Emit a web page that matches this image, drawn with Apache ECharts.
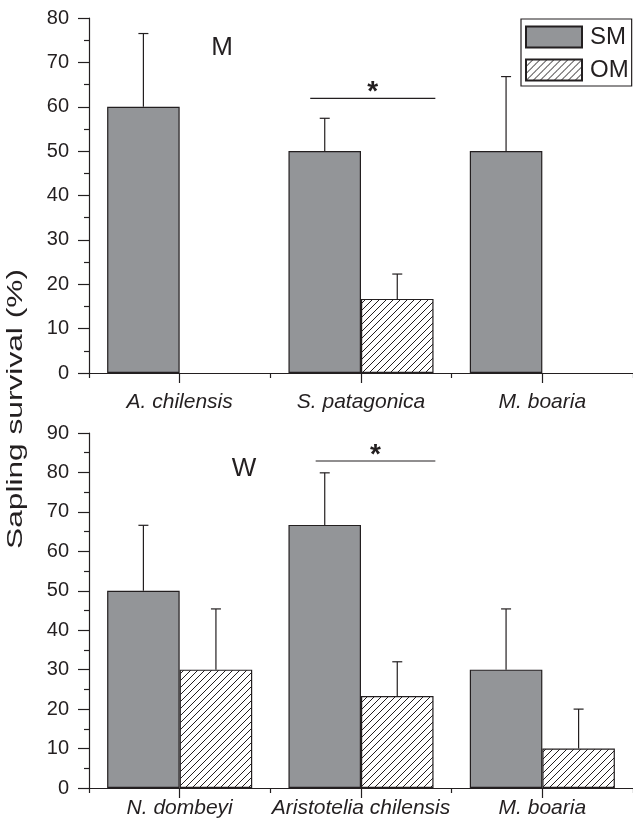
<!DOCTYPE html>
<html><head><meta charset="utf-8">
<script src="https://cdn.jsdelivr.net/npm/echarts@6/dist/echarts.min.js"></script>
<style>html,body{margin:0;padding:0;background:#fff}#c{width:633px;height:827px}</style>
</head><body><div id="c"></div>
<script>
// ---- data ----
const topCategories = ['A. chilensis', 'S. patagonica', 'M. boaria'];
const topSM = [60, 50, 50];
const topSMErr = [16.5, 7.4, 16.8];
const topOM = [null, 16.7, null];
const topOMErr = [null, 5.6, null];
const topSig = [[1, 61.9]];

const botCategories = ['N. dombeyi', 'Aristotelia chilensis', 'M. boaria'];
const botSM = [50, 66.7, 30];
const botSMErr = [16.6, 13.2, 15.4];
const botOM = [30, 23.3, 10];
const botOMErr = [15.4, 8.7, 10];
const botSig = [[1, 82.9]];

const topYTicks = { min: 0, max: 80, interval: 10 };
const botYTicks = { min: 0, max: 90, interval: 10 };
const panelLabels = ['M', 'W'];
const yTitle = 'Sapling survival (%)';

// ---- styles ----
const INK = '#231f20';
const FONT = 'Liberation Sans, Arial, sans-serif';

function hatch() {
  const c = document.createElement('canvas');
  const s = 7;
  c.width = s; c.height = s;
  const g = c.getContext('2d');
  g.fillStyle = '#fff'; g.fillRect(0, 0, s, s);
  g.strokeStyle = INK; g.lineWidth = 1;
  g.beginPath();
  g.moveTo(-1, s + 1); g.lineTo(s + 1, -1);
  g.moveTo(-1, 1); g.lineTo(1, -1);
  g.moveTo(s - 1, s + 1); g.lineTo(s + 1, s - 1);
  g.stroke();
  return c;
}
const hatchPattern = { image: hatch(), repeat: 'repeat' };

function pairs(vals, errs) {
  const out = [];
  vals.forEach((v, i) => { if (v != null && errs[i] != null) out.push([i, v, errs[i]]); });
  return out;
}

function errRender(sign) {
  return function (params, api) {
    const i = api.value(0), v = api.value(1), e = api.value(2);
    const band = api.size([1, 0])[0];
    const off = sign * band * 0.2;
    const p0 = api.coord([i, v]);
    const p1 = api.coord([i, v + e]);
    const x = p0[0] + off;
    const st = { stroke: INK, lineWidth: 1.2 };
    return { type: 'group', children: [
      { type: 'line', shape: { x1: x, y1: p0[1], x2: x, y2: p1[1] }, style: st },
      { type: 'line', shape: { x1: x - 5, y1: p1[1], x2: x + 5, y2: p1[1] }, style: st }
    ] };
  };
}

function sigRender(leftFrac, rightFrac) {
  return function (params, api) {
    const i = api.value(0), v = api.value(1);
    const band = api.size([1, 0])[0];
    const p = api.coord([i, v]);
    const x1 = p[0] + leftFrac * band, x2 = p[0] + rightFrac * band;
    return { type: 'group', children: [
      { type: 'line', shape: { x1: x1, y1: p[1], x2: x2, y2: p[1] }, style: { stroke: INK, lineWidth: 1.2 } },
      { type: 'text', x: (x1 + x2) / 2, y: p[1] - 6,
        style: { text: '*', fill: INK, font: 'bold 28px ' + FONT, align: 'center', verticalAlign: 'middle' } }
    ] };
  };
}

const grids = [
  { left: 89, top: 18, width: 544, height: 355 },
  { left: 89, top: 433, width: 544, height: 355 }
];

function xAxes(gi, cats, labelMargin) {
  return [
    { type: 'category', gridIndex: gi, data: cats, position: 'bottom',
      axisLine: { onZero: false, lineStyle: { color: INK, width: 1.2 } },
      axisTick: { show: false },
      axisLabel: { color: INK, fontSize: 21, fontStyle: 'italic', fontFamily: FONT, margin: labelMargin, interval: 0 },
      splitLine: { show: false } },
    // tick-only axis: short ticks at category boundaries, long (minor) ticks at category centres
    { type: 'value', gridIndex: gi, min: -0.5, max: cats.length - 0.5, interval: 1, position: 'bottom',
      axisLine: { show: false, onZero: false },
      axisTick: { show: true, length: 5, lineStyle: { color: INK, width: 1.2 } },
      minorTick: { show: true, splitNumber: 2, length: 10, lineStyle: { color: INK, width: 1.2 } },
      axisLabel: { show: false }, splitLine: { show: false }, minorSplitLine: { show: false } }
  ];
}
function yAxis(gi, t) {
  return { type: 'value', gridIndex: gi, min: t.min, max: t.max, interval: t.interval,
    axisLine: { show: true, onZero: false, lineStyle: { color: INK, width: 1.2 } },
    axisTick: { show: true, length: 11, lineStyle: { color: INK, width: 1.2 } },
    minorTick: { show: true, splitNumber: 2, length: 5, lineStyle: { color: INK, width: 1.2 } },
    axisLabel: { color: INK, fontSize: 20, fontFamily: FONT, margin: 20 },
    splitLine: { show: false }, minorSplitLine: { show: false } };
}

function barSeries(gi, name, vals, fill) {
  return { type: 'bar', name: name, xAxisIndex: gi * 2, yAxisIndex: gi, data: vals,
    barGap: '0%', barCategoryGap: '20%',
    itemStyle: { color: fill, borderColor: INK, borderWidth: 1.2 },
    emphasis: { disabled: true }, animation: false };
}

const chart = echarts.init(document.getElementById('c'), null, { renderer: 'canvas' });
chart.setOption({
  animation: false,
  backgroundColor: '#fff',
  grid: grids,
  xAxis: [].concat(xAxes(0, topCategories, 19), xAxes(1, botCategories, 10)),
  yAxis: [yAxis(0, topYTicks), yAxis(1, botYTicks)],
  legend: {
    data: ['SM', 'OM'], orient: 'vertical', left: 521, top: 19,
    itemWidth: 56, itemHeight: 21, itemGap: 9,
    padding: [6, 3, 4, 4], borderColor: INK, borderWidth: 1.2,
    icon: 'rect', selectedMode: false,
    textStyle: { color: INK, fontSize: 24, fontFamily: FONT, padding: [0, 0, 0, 3] }
  },
  graphic: [
    { type: 'text', x: 222, y: 48, style: { text: panelLabels[0], fill: INK, font: '26px ' + FONT, align: 'center', verticalAlign: 'middle' } },
    { type: 'text', x: 244, y: 469, style: { text: panelLabels[1], fill: INK, font: '26px ' + FONT, align: 'center', verticalAlign: 'middle' } },
    { type: 'text', x: 16, y: 409, rotation: Math.PI / 2, scaleX: 1.44,
      style: { text: yTitle, fill: INK, font: '22px ' + FONT, align: 'center', verticalAlign: 'middle' } }
  ],
  series: [
    barSeries(0, 'SM', topSM, '#939598'),
    barSeries(0, 'OM', topOM, hatchPattern),
    barSeries(1, 'SM', botSM, '#939598'),
    barSeries(1, 'OM', botOM, hatchPattern),
    { type: 'custom', xAxisIndex: 0, yAxisIndex: 0, renderItem: errRender(-1), data: pairs(topSM, topSMErr), silent: true, z: 3 },
    { type: 'custom', xAxisIndex: 0, yAxisIndex: 0, renderItem: errRender(1), data: pairs(topOM, topOMErr), silent: true, z: 3 },
    { type: 'custom', xAxisIndex: 2, yAxisIndex: 1, renderItem: errRender(-1), data: pairs(botSM, botSMErr), silent: true, z: 3 },
    { type: 'custom', xAxisIndex: 2, yAxisIndex: 1, renderItem: errRender(1), data: pairs(botOM, botOMErr), silent: true, z: 3 },
    { type: 'custom', xAxisIndex: 0, yAxisIndex: 0, renderItem: sigRender(-0.28, 0.41), data: topSig, silent: true, z: 3 },
    { type: 'custom', xAxisIndex: 2, yAxisIndex: 1, renderItem: sigRender(-0.25, 0.41), data: botSig, silent: true, z: 3 }
  ]
});
</script>
</body></html>
